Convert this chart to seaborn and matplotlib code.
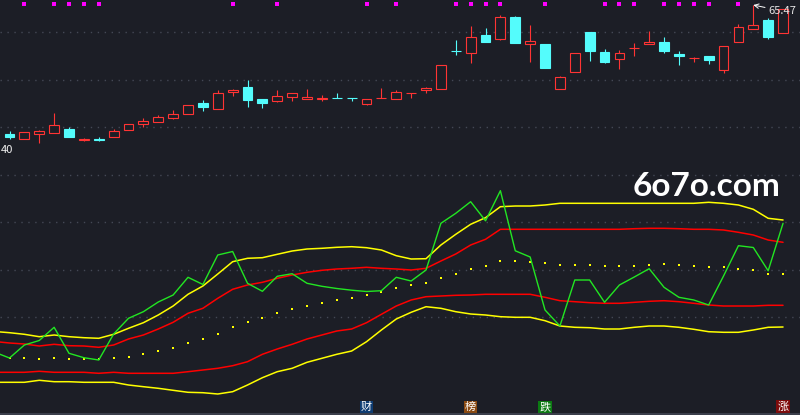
import matplotlib.pyplot as plt
import matplotlib.transforms as mtransforms
from matplotlib.patches import Rectangle
import seaborn as sns
import numpy as np

# K线 (日线)
opens = [41.29, 40.40, 41.23, 41.53, 42.22, 40.25, 40.29, 40.67, 41.98, 43.22,
         43.59, 44.34, 45.09, 47.04, 46.03, 49.10, 50.04, 47.85, 47.53, 48.28,
         47.90, 47.79, 48.00, 48.00, 46.97, 47.96, 47.90, 48.90, 49.59, 49.78,
         56.92, 56.42, 59.85, 59.10, 63.22, 58.10, 58.16, 49.67, 52.85, 60.41,
         56.66, 55.29, 57.34, 58.22, 58.54, 56.29, 55.46, 55.85, 53.34, 58.59,
         61.03, 62.66, 60.28]
highs = [41.85, 41.60, 42.04, 45.22, 42.60, 40.59, 40.72, 42.22, 43.10, 44.29,
         44.85, 45.79, 46.67, 47.66, 49.54, 49.78, 51.41, 47.85, 49.54, 48.92,
         49.72, 48.54, 48.97, 48.00, 47.79, 49.91, 49.54, 48.92, 50.10, 54.17,
         58.91, 61.54, 61.16, 63.60, 63.41, 61.72, 58.16, 52.10, 56.42, 60.41,
         57.22, 57.04, 58.29, 60.60, 59.47, 56.85, 55.78, 55.85, 57.73, 61.91,
         65.47, 62.98, 64.67]
lows = [40.40, 40.40, 39.65, 41.53, 40.78, 40.03, 40.03, 40.67, 41.98, 42.65,
        43.59, 44.10, 45.09, 45.60, 46.03, 48.41, 46.40, 46.22, 47.34, 47.47,
        47.90, 47.53, 47.96, 47.53, 46.72, 47.96, 47.90, 48.09, 49.03, 49.78,
        56.10, 54.65, 58.59, 58.91, 58.40, 54.84, 53.72, 49.67, 52.85, 55.03,
        54.65, 53.53, 55.97, 58.16, 56.53, 54.28, 54.84, 54.47, 52.78, 58.59,
        61.03, 59.10, 60.28]
closes = [40.78, 41.60, 41.85, 42.92, 40.78, 40.29, 40.25, 41.79, 43.10, 43.67,
          44.42, 44.98, 46.67, 46.40, 48.92, 49.54, 47.72, 47.15, 48.35, 48.92,
          48.17, 48.04, 47.96, 47.96, 47.79, 48.00, 49.10, 48.92, 49.85, 54.17,
          56.89, 59.42, 58.59, 63.17, 58.40, 58.67, 53.72, 51.92, 56.42, 56.90,
          54.84, 56.42, 57.35, 58.54, 56.90, 55.97, 55.48, 55.16, 57.73, 61.29,
          61.67, 59.53, 64.67]

# indicador (o primeiro valor é o dia anterior, fora da tela)
green_line = [6.08, 5.50, 6.80, 7.25, 8.57, 5.97, 5.53, 5.30, 7.90, 9.47,
              10.13, 11.10, 11.80, 13.57, 12.85, 15.80, 16.15, 12.97, 12.17, 13.67,
              13.93, 12.97, 12.67, 12.45, 12.28, 12.15, 12.23, 13.57, 13.20, 14.30,
              18.97, 19.97, 21.13, 19.22, 22.23, 16.22, 15.60, 10.30, 8.70, 13.30,
              13.30, 11.07, 12.80, 13.60, 14.43, 12.57, 11.57, 11.30, 10.80, 13.70,
              16.73, 16.55, 14.22, 18.97]
upper_band = [8.15, 8.03, 7.87, 7.63, 7.80, 7.63, 7.53, 7.47, 7.87, 8.47,
              9.03, 9.80, 10.70, 11.87, 12.70, 13.90, 15.13, 15.47, 15.53, 15.87,
              16.20, 16.40, 16.47, 16.57, 16.63, 16.53, 16.30, 15.73, 15.40, 15.43,
              16.80, 17.87, 18.87, 19.53, 20.63, 20.70, 20.70, 20.80, 20.97, 20.97,
              20.97, 20.97, 20.97, 20.97, 20.97, 20.97, 20.97, 20.97, 21.07, 20.97,
              20.80, 20.37, 19.47, 19.30]
upper_mid = [7.15, 7.00, 6.90, 6.70, 6.87, 6.73, 6.70, 6.57, 6.80, 7.40,
             7.80, 8.40, 9.07, 9.97, 10.47, 11.47, 12.37, 12.80, 13.07, 13.47,
             13.80, 14.07, 14.27, 14.40, 14.47, 14.57, 14.47, 14.40, 14.30, 14.47,
             15.20, 15.90, 16.80, 17.37, 18.37, 18.37, 18.37, 18.37, 18.37, 18.37,
             18.37, 18.37, 18.37, 18.43, 18.47, 18.47, 18.43, 18.37, 18.37, 18.30,
             18.07, 17.80, 17.30, 17.07]
lower_mid = [4.07, 4.07, 4.07, 4.17, 4.07, 4.07, 4.07, 3.97, 4.07, 3.97,
             3.97, 3.97, 3.97, 4.13, 4.30, 4.47, 4.73, 5.13, 5.87, 6.40,
             6.87, 7.40, 7.80, 8.20, 8.40, 9.03, 9.87, 10.70, 11.30, 11.63,
             11.70, 11.77, 11.80, 11.87, 11.87, 11.87, 11.87, 11.57, 11.23, 11.13,
             11.03, 10.97, 10.97, 11.07, 11.17, 11.23, 11.13, 10.97, 10.80, 10.70,
             10.70, 10.70, 10.77, 10.77]
lower_band = [3.07, 3.07, 3.07, 3.27, 3.13, 3.13, 3.07, 3.07, 3.07, 2.80,
              2.63, 2.47, 2.27, 2.07, 2.03, 1.90, 2.13, 2.80, 3.53, 4.13,
              4.47, 5.07, 5.47, 5.87, 6.20, 7.13, 8.30, 9.40, 10.07, 10.63,
              10.47, 10.13, 9.90, 9.80, 9.63, 9.57, 9.57, 9.23, 8.70, 8.57,
              8.53, 8.40, 8.40, 8.57, 8.70, 8.70, 8.57, 8.37, 8.13, 8.07,
              8.07, 8.30, 8.57, 8.60]
dots = [5.47, 5.47, 5.40, 5.47, 5.40, 5.40, 5.40, 5.47, 5.57, 5.87,
        6.20, 6.47, 6.97, 7.40, 7.90, 8.57, 9.07, 9.47, 9.97, 10.37,
        10.70, 10.97, 11.27, 11.47, 11.80, 12.07, 12.47, 12.77, 12.97, 13.47,
        13.87, 14.37, 14.67, 15.17, 15.17, 15.07, 14.97, 14.77, 14.77, 14.77,
        14.67, 14.67, 14.67, 14.77, 14.87, 14.77, 14.67, 14.57, 14.57, 14.37,
        14.27, 13.87, 13.87]

marker_days = [1, 3, 4, 5, 6, 15, 18, 24, 26, 30, 31, 32, 33, 36, 40, 41, 42,
               44, 45, 46, 47, 49]
event_days = [24, 31, 36, 52]
event_labels = ["财", "榜", "跌", "涨"]
event_colors = ["#0e3c72", "#8a4a12", "#0b7a12", "#7d0b0b"]

BG = "#1c1e26"
GRID = "#444855"
UP = "#ff3434"
DOWN = "#54fcfc"

sns.set_style("dark", {"axes.facecolor": BG, "figure.facecolor": BG})
plt.rcParams["font.family"] = ["Noto Sans CJK SC", "DejaVu Sans"]

fig = plt.figure(figsize=(8, 4.15), dpi=100)
ax = fig.add_axes([0, 245 / 415, 1, 170 / 415])
ax2 = fig.add_axes([0, 2 / 415, 1, 243 / 415])

xmin, xmax = -0.639, 53.14

# --- painel de cima: candles ---
w = 0.66
for i in range(len(opens)):
    o, h, l, c = opens[i], highs[i], lows[i], closes[i]
    if c >= o:
        col, face = UP, BG
    else:
        col, face = DOWN, DOWN
    ax.vlines(i, l, h, color=col, lw=0.8, zorder=2)
    ax.add_patch(Rectangle((i - w / 2, min(o, c)), w, abs(c - o),
                           facecolor=face, edgecolor=col, lw=0.8, zorder=3))

for y in [60.35, 51.35, 42.54]:
    ax.axhline(y, color=GRID, lw=1, ls=(0, (1, 4)), zorder=1)

trans = mtransforms.blended_transform_factory(ax.transData, ax.transAxes)
ax.scatter(marker_days, [0.975] * len(marker_days), transform=trans,
           marker="s", s=5, color="#ff00ff", linewidths=0, zorder=4)

top = int(np.argmax(highs))
ax.annotate(f"{highs[top]:.2f}", xy=(top, highs[top]), xytext=(15, -6),
            textcoords="offset pixels", ha="left", va="center",
            color="#e6e6e6", fontsize=8,
            arrowprops=dict(arrowstyle="->", color="white", lw=0.7,
                            shrinkA=0, shrinkB=0))
fig.text(0.5 / 800, 1 - 150 / 415, "40", ha="left", va="center",
         color="#f0f0f0", fontsize=8)

ax.set_xlim(xmin, xmax)
ax.set_ylim(34.535, 66.41)
ax.set_axis_off()

# --- painel de baixo: indicador ---
xi = np.arange(-1, 53)
for y in [23.8, 19.1, 14.3, 9.6]:
    ax2.axhline(y, color=GRID, lw=1, ls=(0, (1, 4)), zorder=1)

sns.lineplot(x=xi, y=upper_band, ax=ax2, color="#ffff00", lw=1.1, legend=False)
sns.lineplot(x=xi, y=upper_mid, ax=ax2, color="#ff0000", lw=1.1, legend=False)
sns.lineplot(x=xi, y=lower_mid, ax=ax2, color="#ff0000", lw=1.1, legend=False)
sns.lineplot(x=xi, y=lower_band, ax=ax2, color="#ffff00", lw=1.1, legend=False)
sns.lineplot(x=xi, y=green_line, ax=ax2, color="#22e622", lw=1.0, legend=False)
sns.scatterplot(x=np.arange(53), y=dots, ax=ax2, marker="s", s=1.5,
                color="#ffff00", linewidth=0, legend=False)

trans2 = mtransforms.blended_transform_factory(ax2.transData, ax2.transAxes)
for d, lab, col in zip(event_days, event_labels, event_colors):
    ax2.text(d, 0.026, lab, transform=trans2, ha="center", va="center",
             fontsize=8, color="white",
             bbox=dict(boxstyle="square,pad=0.1", facecolor=col, edgecolor="none"))

fig.text(0.975, 1 - 186 / 415, "6o7o.com", ha="right", va="center",
         fontsize=24, fontweight="bold", color="white", family="Lato")

ax2.set_xlim(xmin, xmax)
ax2.set_ylim(0, 24.3)
ax2.set_axis_off()

fig.add_artist(plt.Line2D([0, 1], [1 / 415, 1 / 415], color="#3a3e4a",
                          lw=1.5, transform=fig.transFigure))

fig.savefig("out.png", dpi=100, facecolor=BG)
